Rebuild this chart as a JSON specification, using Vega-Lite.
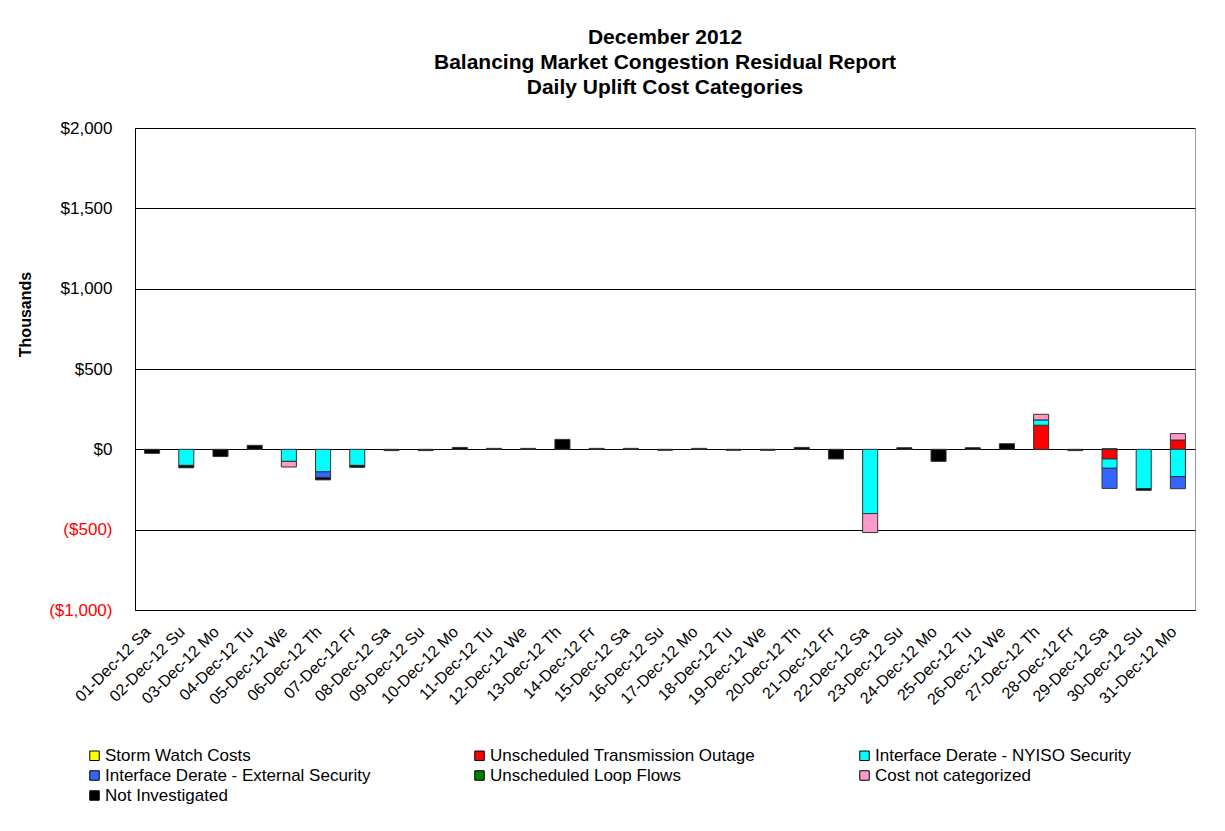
{
  "$schema": "https://vega.github.io/schema/vega-lite/v6.json",
  "width": 1060,
  "height": 482,
  "autosize": {"type": "none"},
  "padding": {"left": 135, "top": 128, "right": 30, "bottom": 221},
  "background": "white",
  "title": {
    "text": ["December 2012", "Balancing Market Congestion Residual Report", "Daily Uplift Cost Categories"],
    "font": "Liberation Sans",
    "fontSize": 21,
    "fontWeight": "bold",
    "lineHeight": 25,
    "offset": 21,
    "anchor": "middle",
    "color": "black"
  },
  "data": {
    "values": [
      {"day": "01-Dec-12 Sa", "cat": "Not Investigated", "v": -25},
      {"day": "02-Dec-12 Su", "cat": "Interface Derate - NYISO  Security", "v": -100},
      {"day": "02-Dec-12 Su", "cat": "Not Investigated", "v": -15},
      {"day": "03-Dec-12 Mo", "cat": "Not Investigated", "v": -45},
      {"day": "04-Dec-12 Tu", "cat": "Not Investigated", "v": 25},
      {"day": "05-Dec-12 We", "cat": "Interface Derate - NYISO  Security", "v": -75},
      {"day": "05-Dec-12 We", "cat": "Cost not categorized", "v": -35},
      {"day": "06-Dec-12 Th", "cat": "Interface Derate - NYISO  Security", "v": -140},
      {"day": "06-Dec-12 Th", "cat": "Interface Derate - External  Security", "v": -35},
      {"day": "06-Dec-12 Th", "cat": "Not Investigated", "v": -15},
      {"day": "07-Dec-12 Fr", "cat": "Interface Derate - NYISO  Security", "v": -100},
      {"day": "07-Dec-12 Fr", "cat": "Not Investigated", "v": -12},
      {"day": "08-Dec-12 Sa", "cat": "Not Investigated", "v": -8},
      {"day": "09-Dec-12 Su", "cat": "Not Investigated", "v": -8},
      {"day": "10-Dec-12 Mo", "cat": "Not Investigated", "v": 12},
      {"day": "11-Dec-12 Tu", "cat": "Not Investigated", "v": 6},
      {"day": "12-Dec-12 We", "cat": "Not Investigated", "v": 6},
      {"day": "13-Dec-12 Th", "cat": "Not Investigated", "v": 62},
      {"day": "14-Dec-12 Fr", "cat": "Not Investigated", "v": 6},
      {"day": "15-Dec-12 Sa", "cat": "Not Investigated", "v": 6},
      {"day": "16-Dec-12 Su", "cat": "Not Investigated", "v": -6},
      {"day": "17-Dec-12 Mo", "cat": "Not Investigated", "v": 6},
      {"day": "18-Dec-12 Tu", "cat": "Not Investigated", "v": -6},
      {"day": "19-Dec-12 We", "cat": "Not Investigated", "v": -6},
      {"day": "20-Dec-12 Th", "cat": "Not Investigated", "v": 12},
      {"day": "21-Dec-12 Fr", "cat": "Not Investigated", "v": -60},
      {"day": "22-Dec-12 Sa", "cat": "Interface Derate - NYISO  Security", "v": -400},
      {"day": "22-Dec-12 Sa", "cat": "Cost not categorized", "v": -118},
      {"day": "23-Dec-12 Su", "cat": "Not Investigated", "v": 10},
      {"day": "24-Dec-12 Mo", "cat": "Not Investigated", "v": -75},
      {"day": "25-Dec-12 Tu", "cat": "Not Investigated", "v": 10},
      {"day": "26-Dec-12 We", "cat": "Not Investigated", "v": 35},
      {"day": "27-Dec-12 Th", "cat": "Unscheduled Transmission Outage", "v": 150},
      {"day": "27-Dec-12 Th", "cat": "Interface Derate - NYISO  Security", "v": 33},
      {"day": "27-Dec-12 Th", "cat": "Cost not categorized", "v": 35},
      {"day": "28-Dec-12 Fr", "cat": "Not Investigated", "v": -8},
      {"day": "29-Dec-12 Sa", "cat": "Unscheduled Transmission Outage", "v": -60},
      {"day": "29-Dec-12 Sa", "cat": "Interface Derate - NYISO  Security", "v": -58},
      {"day": "29-Dec-12 Sa", "cat": "Interface Derate - External  Security", "v": -125},
      {"day": "29-Dec-12 Sa", "cat": "Not Investigated", "v": 4},
      {"day": "30-Dec-12 Su", "cat": "Interface Derate - NYISO  Security", "v": -245},
      {"day": "30-Dec-12 Su", "cat": "Not Investigated", "v": -10},
      {"day": "31-Dec-12 Mo", "cat": "Unscheduled Transmission Outage", "v": 58},
      {"day": "31-Dec-12 Mo", "cat": "Cost not categorized", "v": 40},
      {"day": "31-Dec-12 Mo", "cat": "Interface Derate - NYISO  Security", "v": -170},
      {"day": "31-Dec-12 Mo", "cat": "Interface Derate - External  Security", "v": -75}
    ]
  },
  "transform": [
    {"calculate": "indexof(['Storm Watch Costs', 'Unscheduled Transmission Outage', 'Interface Derate - NYISO  Security', 'Interface Derate - External  Security', 'Unscheduled Loop Flows', 'Cost not categorized', 'Not Investigated'], datum.cat)", "as": "ord"}
  ],
  "mark": {"type": "bar", "stroke": "#333333", "strokeWidth": 1},
  "encoding": {
    "x": {
      "field": "day",
      "type": "nominal",
      "sort": null,
      "scale": {
        "domain": ["01-Dec-12 Sa", "02-Dec-12 Su", "03-Dec-12 Mo", "04-Dec-12 Tu", "05-Dec-12 We", "06-Dec-12 Th", "07-Dec-12 Fr", "08-Dec-12 Sa", "09-Dec-12 Su", "10-Dec-12 Mo", "11-Dec-12 Tu", "12-Dec-12 We", "13-Dec-12 Th", "14-Dec-12 Fr", "15-Dec-12 Sa", "16-Dec-12 Su", "17-Dec-12 Mo", "18-Dec-12 Tu", "19-Dec-12 We", "20-Dec-12 Th", "21-Dec-12 Fr", "22-Dec-12 Sa", "23-Dec-12 Su", "24-Dec-12 Mo", "25-Dec-12 Tu", "26-Dec-12 We", "27-Dec-12 Th", "28-Dec-12 Fr", "29-Dec-12 Sa", "30-Dec-12 Su", "31-Dec-12 Mo"],
        "paddingInner": 0.56,
        "paddingOuter": 0.28
      },
      "axis": {
        "title": null,
        "labelAngle": -45,
        "labelAlign": "right",
        "labelBaseline": "middle",
        "labelFont": "Liberation Sans",
        "labelFontSize": 16,
        "labelColor": "black",
        "labelPadding": 19,
        "labelOffset": -4,
        "ticks": false,
        "domainColor": "black",
        "labelLimit": 300
      }
    },
    "y": {
      "field": "v",
      "type": "quantitative",
      "stack": "zero",
      "scale": {"domain": [-1000, 2000], "nice": false},
      "axis": {
        "title": "Thousands",
        "values": [-1000, -500, 0, 500, 1000, 1500, 2000],
        "labelExpr": "datum.value < 0 ? '($' + format(-datum.value, ',') + ')' : '$' + format(datum.value, ',')",
        "labelColor": {"condition": {"test": "datum.value < 0", "value": "#ff0000"}, "value": "black"},
        "labelFont": "Liberation Sans",
        "labelFontSize": 17,
        "labelPadding": 23,
        "ticks": false,
        "grid": true,
        "gridColor": "black",
        "gridOpacity": 1,
        "gridWidth": 1,
        "domainColor": "black",
        "titleFont": "Liberation Sans",
        "titleFontSize": 16,
        "titleFontWeight": "bold",
        "titleColor": "black",
        "titleX": -102,
        "titleY": 186
      }
    },
    "color": {
      "field": "cat",
      "type": "nominal",
      "scale": {
        "domain": ["Storm Watch Costs", "Unscheduled Transmission Outage", "Interface Derate - NYISO  Security", "Interface Derate - External  Security", "Unscheduled Loop Flows", "Cost not categorized", "Not Investigated"],
        "range": ["#ffff00", "#ff0000", "#00ffff", "#3366ff", "#008000", "#ff99cc", "#000000"]
      },
      "legend": {
        "title": null,
        "orient": "none",
        "direction": "horizontal",
        "legendX": -49,
        "legendY": 619,
        "columns": 3,
        "gridAlign": "all",
        "columnPadding": 95,
        "rowPadding": 2,
        "padding": 0,
        "symbolType": "square",
        "symbolSize": 90,
        "symbolStrokeColor": "black",
        "symbolStrokeWidth": 1,
        "symbolOpacity": 1,
        "labelFont": "Liberation Sans",
        "labelFontSize": 17,
        "labelColor": "black",
        "labelOffset": 2,
        "labelLimit": 400
      }
    },
    "order": {"field": "ord", "type": "quantitative", "sort": "ascending"}
  },
  "config": {
    "view": {"stroke": "#999999"},
    "font": "Liberation Sans"
  }
}
